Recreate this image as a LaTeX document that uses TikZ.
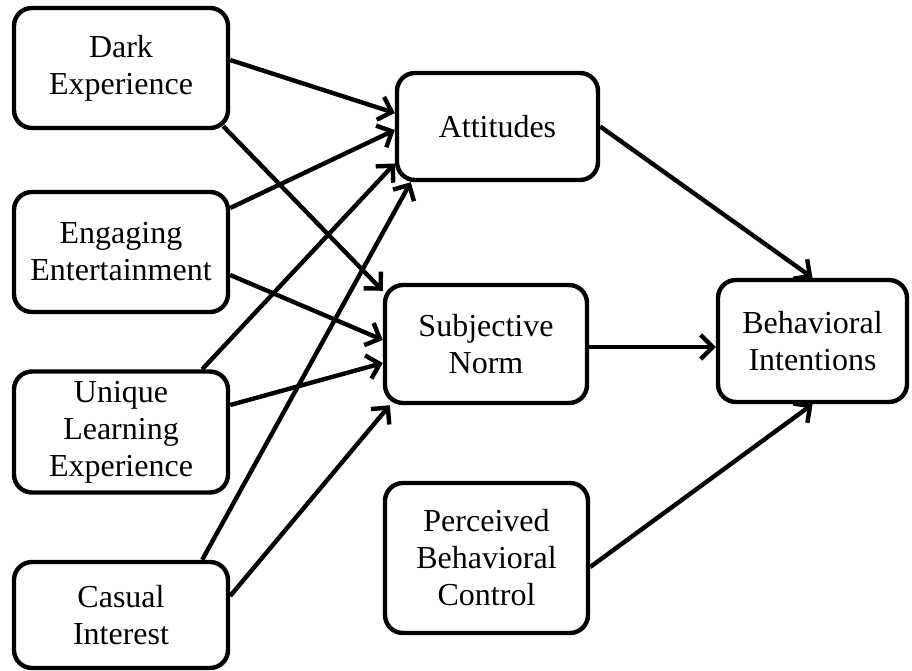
\documentclass[tikz,border=0pt]{standalone}
\usepackage{fontspec}
\setmainfont{Liberation Serif}
\usetikzlibrary{arrows.meta}
\tikzset{
  factor/.style={draw=black, line width=4.4pt, rounded corners=18pt, fill=white,
    align=center, inner sep=0pt, font=\fontsize{32}{37}\selectfont},
  link/.style={line width=4.4pt, -{Straight Barb[length=12pt,width=24pt,line width=4.4pt]}}
}
\begin{document}
\begin{tikzpicture}[x=1pt,y=-1pt]
  \useasboundingbox (0,0) rectangle (912,671);

  % exogenous factors (left column)
  \node[factor, minimum width=214pt, minimum height=120pt] (dark) at (121,68) {Dark\\Experience};
  \node[factor, minimum width=214pt, minimum height=120pt] (eng)  at (121,252) {Engaging\\Entertainment};
  \node[factor, minimum width=214pt, minimum height=121pt] (uniq) at (121,432)
    {\raisebox{-5pt}{\begin{tabular}{@{}c@{}}Unique\\Learning\\Experience\end{tabular}}};
  \node[factor, minimum width=214pt, minimum height=106pt] (cas)  at (121,615) {Casual\\Interest};

  % TPB constructs
  \node[factor, minimum width=201pt, minimum height=107pt] (att)  at (497.5,126.5) {Attitudes};
  \node[factor, minimum width=202pt, minimum height=118pt] (subj) at (486,344) {Subjective\\Norm};
  \node[factor, minimum width=203pt, minimum height=150pt] (pbc)  at (486.5,558) {Perceived\\Behavioral\\Control};
  \node[factor, minimum width=189pt, minimum height=122pt] (bi)   at (812.5,341) {Behavioral\\Intentions};

  % paths into Attitudes
  \draw[link] ([yshift=8pt]dark.east) -- ([yshift=13.5pt]att.west);
  \draw[link] ([yshift=44pt]eng.east) -- ([yshift=-3.5pt]att.west);
  \draw[link] ([xshift=-28pt]uniq.north east) -- ([yshift=-37pt]att.west);
  \draw[link] ([xshift=-28pt]cas.north east) -- ([xshift=16pt]att.south west);

  % paths into Subjective Norm
  \draw[link] ([xshift=-7pt,yshift=4pt]dark.south east) -- ([yshift=-8pt]subj.north west);
  \draw[link] ([yshift=-23pt]eng.east) -- ([yshift=4pt]subj.west);
  \draw[link] ([yshift=27pt]uniq.east) -- ([yshift=-19pt]subj.west);
  \draw[link] ([yshift=19pt]cas.east) -- ([xshift=7pt]subj.south west);

  % paths into Behavioral Intentions
  \draw[link] (att.east) -- (bi.north);
  \draw[link] ([yshift=-3pt]subj.east) -- ([yshift=-3pt]subj.east -| bi.west);
  \draw[link] ([yshift=-9pt]pbc.east) -- (bi.south);
\end{tikzpicture}
\end{document}
